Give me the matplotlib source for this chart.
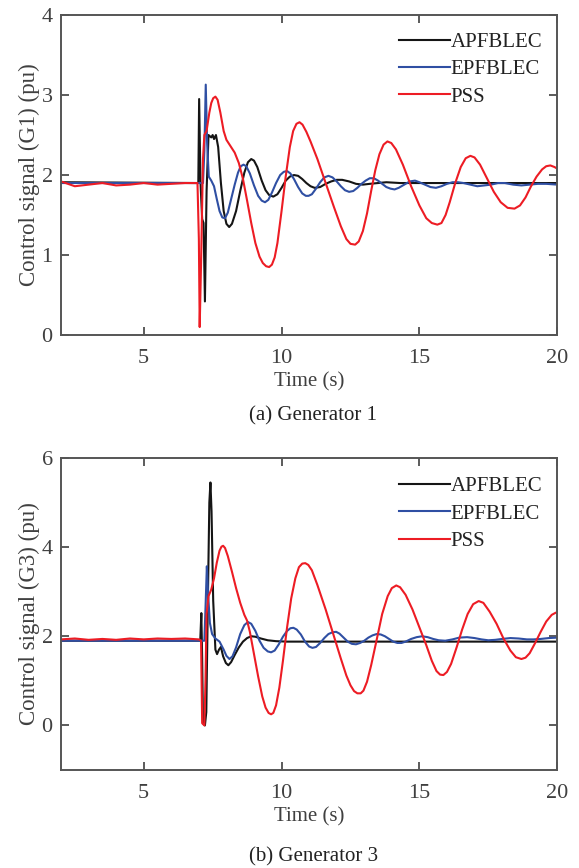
import matplotlib
matplotlib.use("Agg")
import matplotlib.pyplot as plt

plt.rcParams['font.family'] = ['Liberation Serif', 'DejaVu Serif']

# ---------------- Generator 1 ----------------
g1_apf_t = [2.0, 6.98, 7.01, 7.06, 7.12, 7.17, 7.22, 7.28, 7.35, 7.45, 7.5, 7.55, 7.62, 7.7, 7.8, 7.9, 8.0, 8.1,
            8.2, 8.35, 8.5, 8.65, 8.78, 8.9, 9.0, 9.12, 9.28, 9.42, 9.55, 9.7, 9.85, 10.0, 10.15, 10.3, 10.45,
            10.6, 10.75, 10.9, 11.05, 11.2, 11.4, 11.6, 11.8, 12.0, 12.2, 12.45, 12.7, 12.95, 13.2, 13.5, 13.8,
            14.3, 20.0]
g1_apf_v = [1.91, 1.90, 2.95, 1.90, 1.45, 1.40, 0.42, 1.80, 2.50, 2.47, 2.50, 2.45, 2.50, 2.35, 1.90, 1.55, 1.39, 1.35,
            1.39, 1.55, 1.80, 2.03, 2.16, 2.20, 2.18, 2.10, 1.93, 1.81, 1.75, 1.73, 1.76, 1.84, 1.93, 1.98, 2.00,
            1.99, 1.95, 1.90, 1.86, 1.84, 1.85, 1.89, 1.92, 1.94, 1.94, 1.92, 1.89, 1.88, 1.89, 1.90, 1.91,
            1.90, 1.90]

g1_epf_t = [2.0, 7.15, 7.2, 7.25, 7.3, 7.36, 7.45, 7.55, 7.65, 7.75, 7.85, 7.95, 8.05, 8.15, 8.3, 8.42, 8.52, 8.62,
            8.72, 8.85, 9.0, 9.15, 9.28, 9.4, 9.52, 9.65, 9.8, 9.95, 10.08, 10.2, 10.32, 10.45, 10.6, 10.75,
            10.88, 10.98, 11.1, 11.25, 11.4, 11.55, 11.7, 11.85, 12.0, 12.15, 12.3, 12.45, 12.6, 12.75, 12.9,
            13.05, 13.2, 13.35, 13.5, 13.65, 13.8, 13.95, 14.1, 14.25, 14.45, 14.65, 14.84, 15.0, 15.2, 15.4,
            15.6, 15.8, 16.0, 16.2, 16.4, 16.6, 16.85, 17.1, 17.35, 17.6, 17.85, 18.1, 18.4, 18.7, 19.0, 19.3,
            19.6, 20.0]
g1_epf_v = [1.90, 1.90, 2.30, 3.13, 2.40, 1.98, 1.93, 1.86, 1.70, 1.55, 1.47, 1.46, 1.53, 1.67, 1.88, 2.03, 2.11, 2.13,
            2.11, 2.02, 1.87, 1.74, 1.68, 1.66, 1.69, 1.78, 1.90, 2.00, 2.04, 2.05, 2.02, 1.95, 1.85, 1.77,
            1.74, 1.74, 1.76, 1.83, 1.91, 1.97, 1.99, 1.97, 1.92, 1.86, 1.81, 1.79, 1.80, 1.84, 1.89,
            1.93, 1.96, 1.96, 1.93, 1.89, 1.85, 1.83, 1.82, 1.84, 1.88, 1.92, 1.93, 1.91, 1.88, 1.85,
            1.84, 1.86, 1.89, 1.91, 1.91, 1.90, 1.88, 1.86, 1.87, 1.88, 1.90, 1.90, 1.88, 1.87, 1.88, 1.89,
            1.89, 1.88]

g1_pss_t = [2.0, 2.5, 3.0, 3.5, 4.0, 4.5, 5.0, 5.5, 6.0, 6.5, 6.95, 7.0, 7.03, 7.08, 7.15, 7.2, 7.28, 7.38, 7.45,
            7.52, 7.6, 7.68, 7.78, 7.9, 8.0, 8.15, 8.3, 8.45, 8.6, 8.75, 8.9, 9.05, 9.2, 9.32, 9.44, 9.55, 9.65,
            9.75, 9.85, 10.0, 10.15, 10.3, 10.42, 10.54, 10.65, 10.76, 10.9, 11.05, 11.3, 11.6, 11.9, 12.15,
            12.35, 12.5, 12.67, 12.8, 12.95, 13.1, 13.25, 13.4, 13.55, 13.7, 13.84, 13.98, 14.15, 14.4, 14.7,
            15.0, 15.25, 15.45, 15.65, 15.8, 15.95, 16.1, 16.3, 16.5, 16.68, 16.85, 17.0, 17.2, 17.45, 17.7,
            17.95, 18.2, 18.45, 18.65, 18.85, 19.05, 19.25, 19.45, 19.6, 19.75, 19.9, 20.0]
g1_pss_v = [1.92, 1.86, 1.88, 1.90, 1.87, 1.88, 1.90, 1.88, 1.89, 1.90, 1.90, 1.20, 0.10, 0.90, 2.20, 2.50, 2.55, 2.78,
            2.90, 2.96, 2.98, 2.94, 2.78, 2.55, 2.44, 2.36, 2.28, 2.15, 1.95, 1.68, 1.40, 1.15, 0.98, 0.90, 0.86,
            0.85, 0.88, 0.97, 1.15, 1.55, 1.98, 2.35, 2.55, 2.64, 2.66, 2.63, 2.54, 2.42, 2.20, 1.90, 1.60, 1.36,
            1.20, 1.14, 1.13, 1.17, 1.30, 1.52, 1.80, 2.06, 2.26, 2.38, 2.42, 2.40, 2.32, 2.13, 1.86,
            1.62, 1.46, 1.40, 1.38, 1.40, 1.50, 1.66, 1.90, 2.10, 2.21, 2.24, 2.22, 2.13, 1.96, 1.79,
            1.66, 1.59, 1.58, 1.62, 1.72, 1.86, 1.98, 2.07, 2.11, 2.12, 2.10, 2.08]

# ---------------- Generator 3 ----------------
g3_apf_t = [2.0, 7.05, 7.09, 7.12, 7.15, 7.22, 7.27, 7.32, 7.38, 7.42, 7.46, 7.52, 7.6, 7.66, 7.73, 7.8, 7.88, 7.98,
            8.07, 8.17, 8.3, 8.45, 8.6, 8.75, 8.9, 9.05, 9.25, 9.5, 9.8, 10.2, 20.0]
g3_apf_v = [1.90, 1.90, 2.52, 1.50, 0.05, 0.00, 0.30, 2.50, 5.00, 5.45, 4.80, 2.80, 1.70, 1.60, 1.70, 1.76, 1.55, 1.40,
            1.35, 1.42, 1.58, 1.75, 1.88, 1.96, 2.00, 1.99, 1.95, 1.91, 1.89, 1.88, 1.88]

g3_epf_t = [2.0, 7.2, 7.25, 7.29, 7.33, 7.4, 7.48, 7.6, 7.75, 7.9, 8.0, 8.11, 8.22, 8.35, 8.5, 8.65, 8.78, 8.9, 9.05,
            9.2, 9.35, 9.5, 9.62, 9.75, 9.9, 10.05, 10.2, 10.32, 10.43, 10.55, 10.7, 10.85, 11.0, 11.12, 11.25,
            11.4, 11.55, 11.7, 11.85, 11.98, 12.1, 12.25, 12.4, 12.55, 12.7, 12.85, 13.0, 13.15, 13.3, 13.45,
            13.6, 13.75, 13.9, 14.05, 14.2, 14.35, 14.5, 14.7, 14.9, 15.1, 15.3, 15.5, 15.7, 15.94, 16.2, 16.45,
            16.73, 17.0, 17.25, 17.5, 17.75, 18.0, 18.3, 18.6, 18.9, 19.14, 19.4, 19.7, 20.0]
g3_epf_v = [1.90, 1.90, 2.80, 3.57, 3.00, 2.30, 2.05, 1.95, 1.88, 1.70, 1.56, 1.49, 1.55, 1.75, 2.05, 2.25, 2.32, 2.28,
            2.12, 1.90, 1.74, 1.66, 1.64, 1.68, 1.82, 1.99, 2.12, 2.18, 2.19, 2.15, 2.04, 1.88, 1.77, 1.74, 1.76,
            1.85, 1.96, 2.05, 2.09, 2.10, 2.06, 1.97, 1.88, 1.83, 1.82, 1.85, 1.90, 1.97, 2.02, 2.05,
            2.04, 2.00, 1.94, 1.88, 1.85, 1.85, 1.88, 1.94, 1.98, 2.00, 1.98, 1.94, 1.91, 1.90, 1.93, 1.97,
            1.98, 1.96, 1.93, 1.91, 1.92, 1.94, 1.96, 1.95, 1.93, 1.93, 1.94, 1.96, 1.97]

g3_pss_t = [2.0, 2.5, 3.0, 3.5, 4.0, 4.5, 5.0, 5.5, 6.0, 6.5, 7.0, 7.08, 7.12, 7.2, 7.24, 7.28, 7.35, 7.45, 7.55,
            7.65, 7.75, 7.82, 7.88, 7.95, 8.05, 8.2, 8.35, 8.5, 8.65, 8.75, 8.85, 9.0, 9.15, 9.3, 9.42, 9.53, 9.62,
            9.7, 9.8, 9.92, 10.05, 10.2, 10.35, 10.5, 10.63, 10.75, 10.86, 10.97, 11.1, 11.3, 11.6, 11.9, 12.15,
            12.35, 12.5, 12.63, 12.75, 12.87, 12.97, 13.1, 13.25, 13.45, 13.65, 13.85, 14.0, 14.16, 14.3, 14.5,
            14.75, 15.0, 15.25, 15.45, 15.62, 15.75, 15.87, 16.0, 16.15, 16.35, 16.55, 16.75, 16.95, 17.15,
            17.32, 17.55, 17.8, 18.05, 18.3, 18.5, 18.7, 18.85, 19.0, 19.2, 19.4, 19.6, 19.8, 19.95, 20.0]
g3_pss_v = [1.93, 1.95, 1.92, 1.94, 1.92, 1.95, 1.93, 1.95, 1.94, 1.95, 1.93, 1.90, 0.05, 0.00, 1.00, 2.50, 2.90, 3.05,
            3.30, 3.65, 3.92, 4.01, 4.03, 3.98, 3.80, 3.45, 3.08, 2.75, 2.48, 2.35, 2.10, 1.60, 1.10, 0.65, 0.40,
            0.28, 0.25, 0.28, 0.45, 0.85, 1.45, 2.20, 2.85, 3.30, 3.55, 3.63, 3.64, 3.60, 3.48, 3.15, 2.60, 2.00,
            1.50, 1.12, 0.90, 0.77, 0.72, 0.72, 0.78, 0.98, 1.35, 1.92, 2.50, 2.90, 3.08, 3.14, 3.10, 2.93,
            2.60, 2.20, 1.80, 1.45, 1.22, 1.14, 1.13, 1.20, 1.38, 1.75, 2.15, 2.50, 2.72, 2.79,
            2.75, 2.55, 2.28, 1.95, 1.68, 1.53, 1.49, 1.52, 1.62, 1.85, 2.10, 2.33, 2.48, 2.53, 2.53]

labels = ["APFBLEC", "EPFBLEC", "PSS"]
colors = ["#151515", "#2f4fa3", "#ed1c24"]
x_ticks = [5, 10, 15, 20]

fig = plt.figure(figsize=(5.79, 8.68), dpi=100)
ax1 = fig.add_axes([0.1054, 0.614, 0.857, 0.3687])
ax2 = fig.add_axes([0.1054, 0.1129, 0.857, 0.3595])

gray = "#404040"
def style(ax, ylim, yticks, ylabel, leg_top):
    ax.set_xlim(2, 20)
    ax.set_ylim(*ylim)
    ax.set_xticks(x_ticks)
    ax.set_yticks(yticks)
    ax.tick_params(direction='in', top=True, right=True, length=6, width=1.2,
                   colors=gray, labelsize=16)
    ax.tick_params(axis='x', pad=10)
    ax.tick_params(axis='y', pad=6)
    for s in ax.spines.values():
        s.set_color("#555555")
        s.set_linewidth(1.4)
    ax.set_xlabel("Time (s)", fontsize=15, color=gray, labelpad=3)
    ax.set_ylabel(ylabel, fontsize=16.5, color=gray, labelpad=1)
    leg = ax.legend(loc='upper right', bbox_to_anchor=(0.97, leg_top), frameon=False, fontsize=15,
                    handlelength=2.45, handletextpad=0.05, labelspacing=0.37, borderpad=0,
                    borderaxespad=0)
    for t in leg.get_texts():
        t.set_color("#222222")

series1 = [(g1_apf_t, g1_apf_v), (g1_epf_t, g1_epf_v), (g1_pss_t, g1_pss_v)]
series3 = [(g3_apf_t, g3_apf_v), (g3_epf_t, g3_epf_v), (g3_pss_t, g3_pss_v)]

for (t, v), lab, c in zip(series1, labels, colors):
    ax1.plot(t, v, color=c, lw=1.5, label=lab)
for (t, v), lab, c in zip(series3, labels, colors):
    ax2.plot(t, v, color=c, lw=1.5, label=lab)

style(ax1, (0, 4), [0, 1, 2, 3, 4], "Control signal (G1) (pu)", 0.945)
style(ax2, (-1, 6), [0, 2, 4, 6], "Control signal (G3) (pu)", 0.94)

fig.text(0.541, 1 - 416 / 868, "(a) Generator 1", ha='center', va='center', fontsize=15, color="#222222")
fig.text(0.541, 1 - 857 / 868, "(b) Generator 3", ha='center', va='center', fontsize=15, color="#222222")

fig.savefig("out.png", dpi=100)
